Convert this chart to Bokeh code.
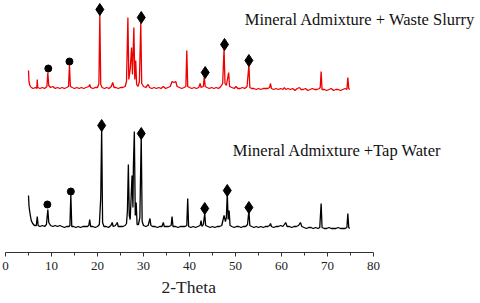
from bokeh.plotting import figure
from bokeh.models import Range1d, Label, FixedTicker, Title
from bokeh.embed import file_html
from bokeh.resources import INLINE

# ---------------- data ----------------
red_2theta = [5.0, 5.1, 5.3, 5.6, 6.0, 6.5, 6.8, 6.9, 7.0, 7.5, 8.0, 8.5, 9.0, 9.2, 9.4, 9.8,
              10.3, 10.8, 11.3, 11.8, 12.3, 12.8, 13.3, 13.7, 13.9, 14.1, 14.5, 15.0, 15.5, 16.0,
              16.5, 17.0, 17.5, 18.1, 18.3, 18.5, 19.0, 19.5, 20.0, 20.3, 20.5, 20.7, 21.0, 21.5,
              22.0, 22.5, 23.0, 23.3, 23.6, 24.0, 24.5, 25.0, 25.5, 26.0, 26.3, 26.6, 26.8, 27.1,
              27.4, 27.6, 27.9, 28.1, 28.3, 28.5, 28.8, 29.1, 29.4, 29.6, 30.0, 30.5, 31.0, 31.3,
              31.8, 32.3, 32.8, 33.3, 33.8, 34.3, 34.8, 35.3, 35.8, 36.2, 36.6, 37.0, 37.3, 37.8,
              38.3, 38.8, 39.2, 39.4, 39.6, 40.0, 40.5, 41.0, 41.5, 42.0, 42.3, 42.5, 43.0, 43.2,
              43.4, 43.8, 44.3, 44.8, 45.3, 45.8, 46.3, 46.8, 47.2, 47.5, 47.7, 48.0, 48.5, 48.7,
              49.2, 49.7, 50.1, 50.5, 51.0, 51.5, 52.0, 52.5, 52.9, 53.1, 53.5, 54.0, 54.5, 55.0,
              55.5, 56.0, 56.5, 57.0, 57.4, 57.6, 57.8, 58.3, 58.8, 59.3, 59.8, 60.3, 60.6, 60.9,
              61.4, 61.9, 62.4, 62.9, 63.4, 63.9, 64.2, 64.7, 65.2, 65.7, 66.2, 66.7, 67.2, 67.7,
              68.2, 68.4, 68.6, 68.8, 69.3, 69.8, 70.3, 70.8, 71.3, 71.8, 72.3, 72.8, 73.3, 73.8,
              74.2, 74.4, 74.6, 74.8]
red_int = [19, 8, 4, 2, 1, 2, 1, 10, 2, 1, 2, 1, 3, 17, 4, 2,
           3, 1, 2, 1, 2, 1, 2, 3, 25, 3, 2, 1, 2, 1,
           2, 1, 2, 3, 5, 2, 1, 2, 2, 6, 75, 5, 2, 1,
           2, 1, 3, 7, 2, 2, 1, 2, 2, 3, 8, 72, 10, 20,
           42, 15, 62, 10, 29, 5, 3, 8, 67, 6, 3, 2, 5, 2,
           1, 2, 1, 2, 1, 3, 1, 2, 3, 8, 7, 8, 3, 2,
           1, 2, 3, 39, 3, 2, 1, 2, 1, 2, 6, 2, 3, 13,
           3, 2, 1, 2, 1, 2, 1, 3, 6, 41, 6, 4, 17, 3,
           2, 1, 3, 1, 1, 2, 1, 3, 25, 2, 1, 1, 0, 1,
           0, 1, 1, 1, 2, 6, 1, 0, 1, 0, 1, 0, 2, 0,
           1, 0, 1, -1, 1, 2, 0, 0, 1, -1, 0, 1, 0, 0,
           1, 2, 18, 0, 0, -1, 0, 1, -1, 0, 0, -1, 0, 1,
           0, 12, 1, 0]

black_2theta = [5.0, 5.1, 5.2, 5.4, 5.6, 5.9, 6.3, 6.7, 6.9, 7.1, 7.5, 8.0, 8.5, 8.9, 9.2, 9.4,
                9.8, 10.3, 10.8, 11.3, 11.8, 12.3, 12.8, 13.3, 13.8, 14.0, 14.2, 14.4, 14.8, 15.3,
                15.8, 16.3, 16.8, 17.3, 17.8, 18.1, 18.3, 18.5, 19.0, 19.5, 20.0, 20.4, 20.7, 20.9,
                21.1, 21.4, 21.9, 22.4, 22.9, 23.2, 23.4, 23.9, 24.3, 24.5, 25.0, 25.5, 26.0, 26.3,
                26.5, 26.7, 26.9, 27.1, 27.3, 27.5, 27.7, 27.8, 28.0, 28.2, 28.4, 28.6, 28.9, 29.2,
                29.5, 29.7, 30.0, 30.5, 31.0, 31.4, 31.6, 32.0, 32.5, 33.0, 33.5, 34.0, 34.3, 34.5,
                35.0, 35.5, 36.0, 36.2, 36.4, 37.0, 37.5, 38.0, 38.5, 39.0, 39.4, 39.6, 39.8, 40.3,
                40.8, 41.3, 41.8, 42.3, 42.5, 42.7, 43.0, 43.3, 43.5, 44.0, 44.5, 45.0, 45.5, 46.0,
                46.5, 47.0, 47.5, 47.8, 48.0, 48.2, 48.4, 48.6, 48.8, 49.2, 49.7, 50.2, 50.7, 51.2,
                51.7, 52.2, 52.6, 52.9, 53.1, 53.5, 54.0, 54.5, 55.0, 55.5, 56.0, 56.5, 57.0, 57.4,
                57.6, 57.8, 58.3, 58.8, 59.3, 59.8, 60.3, 60.6, 60.9, 61.2, 61.7, 62.2, 62.7, 63.2,
                63.7, 64.1, 64.4, 64.9, 65.4, 65.9, 66.4, 66.9, 67.4, 67.9, 68.3, 68.6, 68.8, 69.3,
                69.8, 70.3, 70.8, 71.3, 71.8, 72.3, 72.8, 73.3, 73.8, 74.2, 74.4, 74.6, 74.8]
black_int = [32, 22, 18, 12, 7, 4, 2, 2, 11, 2, 1, 2, 1, 3, 18, 5,
             2, 1, 2, 1, 2, 1, 0, 1, 1, 2, 33, 1, 1, 0,
             1, 0, 1, 1, 1, 2, 8, 1, 1, 0, 1, 3, 30, 99,
             5, 1, 1, 0, 2, 5, 1, 2, 5, 1, 1, 1, 2, 4,
             17, 63, 12, 8, 30, 52, 20, 62, 96, 12, 25, 3, 3, 10,
             92, 6, 2, 1, 2, 9, 2, 1, 1, 0, 1, 1, 5, 1,
             1, 1, 2, 11, 1, 1, 0, 1, 1, 1, 2, 29, 1, 0,
             1, 0, 1, 2, 7, 1, 3, 14, 2, 1, 0, 1, 0, 1,
             1, 2, 12, 6, 10, 34, 8, 17, 2, 1, 0, 1, 1, 0,
             1, 1, 3, 17, 2, 1, 0, 1, 0, 1, 0, 1, 1, 2,
             4, 1, 0, 1, 1, 2, 1, 3, 5, 1, 1, 0, 1, 1,
             2, 5, 1, 0, -1, 0, 0, -1, 0, -1, 0, 24, 0, -1,
             -1, 0, -1, -1, -1, 0, -1, -1, -1, 0, 14, 0, -1]

# phase markers: circle (dot) and diamond, 2-theta and marker level
red_dot_2theta = [9.3, 13.9]
red_dot_int = [21, 28]
red_dia_2theta = [20.5, 29.5, 43.4, 47.6, 52.9]
red_dia_int = [80, 72, 17, 45, 29]
black_dot_2theta = [9.1, 14.2]
black_dot_int = [23, 36]
black_dia_2theta = [20.9, 29.5, 43.3, 48.2, 52.9]
black_dia_int = [102, 94, 19, 37, 20]

x_ticks = [0, 10, 20, 30, 40, 50, 60, 70, 80]
x_minor_ticks = [5, 15, 25, 35, 45, 55, 65, 75]
x_title = "2-Theta"
label_red = "Mineral Admixture + Waste Slurry"
label_black = "Mineral Admixture +Tap Water"

# ---------------- layout / style ----------------
RED_OFFSET = 163
BLACK_OFFSET = 25
SERIF = "Liberation Serif"

p = figure(width=478, height=300, x_range=Range1d(0, 102.8), y_range=Range1d(0, 252),
           output_backend="svg", toolbar_location=None, y_axis_location=None,
           min_border_left=5, min_border_right=0, min_border_top=0, min_border_bottom=48)
p.grid.visible = False
p.outline_line_color = None
p.background_fill_color = "white"
p.border_fill_color = "white"

p.line(red_2theta, [v + RED_OFFSET for v in red_int], line_color="#ee0000", line_width=1.3)
p.line(black_2theta, [v + BLACK_OFFSET for v in black_int], line_color="black", line_width=1.3)

p.scatter(red_dot_2theta, [v + RED_OFFSET for v in red_dot_int], marker="circle", size=7,
          fill_color="black", line_color="black")
p.scatter(red_dia_2theta, [v + RED_OFFSET for v in red_dia_int], marker="diamond", size=12,
          fill_color="black", line_color="black")
p.scatter(black_dot_2theta, [v + BLACK_OFFSET for v in black_dot_int], marker="circle", size=7,
          fill_color="black", line_color="black")
p.scatter(black_dia_2theta, [v + BLACK_OFFSET for v in black_dia_int], marker="diamond", size=12,
          fill_color="black", line_color="black")

p.add_layout(Label(x=52.0, y=233, text=label_red, text_font=SERIF, text_font_size="16.5px",
                   text_color="#111111", text_baseline="alphabetic"))
p.add_layout(Label(x=49.4, y=102, text=label_black, text_font=SERIF, text_font_size="16.5px",
                   text_color="#111111", text_baseline="alphabetic"))

ax = p.xaxis[0]
ax.bounds = (0, 80)
ax.ticker = FixedTicker(ticks=x_ticks, minor_ticks=x_minor_ticks)
ax.axis_line_color = "#333333"
ax.major_tick_line_color = "#333333"
ax.minor_tick_line_color = "#333333"
ax.major_tick_out = 4
ax.major_tick_in = 0
ax.minor_tick_out = 3
ax.minor_tick_in = 0
ax.major_label_text_font = SERIF
ax.major_label_text_font_size = "13px"
ax.major_label_text_color = "#222222"
ax.major_label_standoff = 5

# axis title placed under the 0-80 part of the axis (not the whole frame)
p.add_layout(Title(text=x_title, align="left", offset=156, standoff=5,
                   text_font=SERIF, text_font_style="normal", text_font_size="17.5px",
                   text_color="#222222"), "below")

open("out.html", "w").write(file_html(p, INLINE))
